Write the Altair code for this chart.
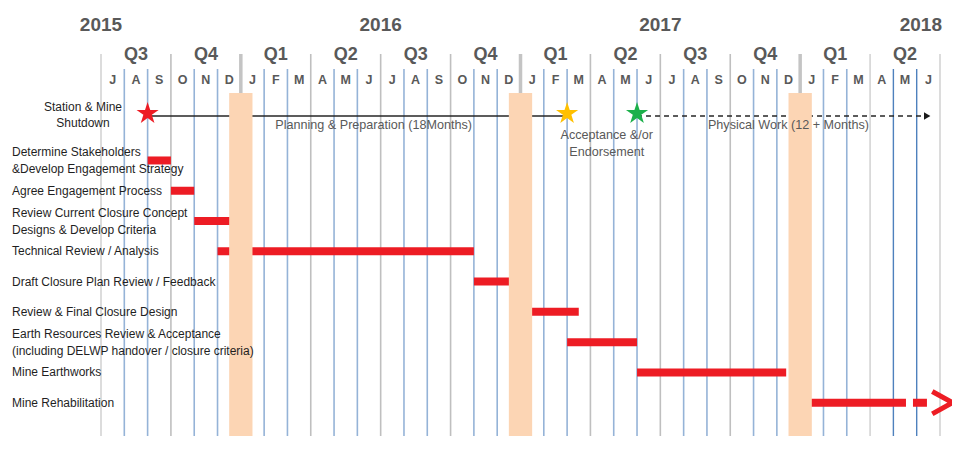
import altair as alt
import pandas as pd

# ---------------- data ----------------
months = ["J", "A", "S", "O", "N", "D", "J", "F", "M", "A", "M", "J",
          "J", "A", "S", "O", "N", "D", "J", "F", "M", "A", "M", "J",
          "J", "A", "S", "O", "N", "D", "J", "F", "M", "A", "M", "J"]  # Jul 2015 .. Jun 2018
quarters = ["Q3", "Q4", "Q1", "Q2", "Q3", "Q4", "Q1", "Q2", "Q3", "Q4", "Q1", "Q2"]
years = ["2015", "2016", "2017", "2018"]
year_mid = [0, 12, 24, 36]          # 1 July of each year, in months from Jul 2015

tasks = [
    "Determine Stakeholders\n&Develop Engagement Strategy",
    "Agree Engagement Process",
    "Review  Current Closure Concept\nDesigns & Develop Criteria",
    "Technical Review / Analysis",
    "Draft Closure Plan Review / Feedback",
    "Review & Final Closure Design",
    "Earth Resources Review & Acceptance\n(including DELWP handover / closure criteria)",
    "Mine Earthworks",
    "Mine Rehabilitation",
]
task_start = [2, 3, 4, 5, 16, 18, 20, 23, 30.4]
task_end = [3, 4, 6, 16, 18, 20.5, 23, 29.4, 34.54]
rehab_dash_end = 35.44
rehab_arrow = 36.1

milestone_names = ["Station & Mine Shutdown", "Acceptance &/or Endorsement", "Start of Physical Work"]
milestone_month = [2, 20, 23]
milestone_color = ["#ED1C24", "#FFC000", "#1CB04B"]
planning_span = [2, 20]
physical_span = [23, 35.2]
physical_arrow = 35.45

phase_text = ["Planning & Preparation (18Months)", "Acceptance &/or\nEndorsement", "Physical Work (12 + Months)"]
phase_month = [11.7, 21.7, 29.5]
phase_line = [0, 1, 0]

break_start = [5.5, 17.5, 29.5]     # Christmas shutdown periods
break_end = [6.5, 18.5, 30.5]

# ---------------- layout ----------------
W, H = 944, 428
PER = (940 - 101) / 36
OFF = 101 - 8
X0 = -OFF / PER
X1 = (W - OFF) / PER
ROW1, STEP = 151, 31
Y0 = 1 - ROW1 / STEP
Y1 = 1 + (H - ROW1) / STEP

xs = alt.Scale(domain=[X0, X1], nice=False, zero=False)
ys = alt.Scale(domain=[Y0, Y1], nice=False, zero=False, reverse=True)

GRAY_TXT = "#595959"
LABEL_FONT = "Liberation Sans, Arial"
HEAD_FONT = "Liberation Sans, Arial"
STAR = ("M0,-1L0.2245,-0.309L0.951,-0.309L0.363,0.118L0.588,0.809L0,0.382"
        "L-0.588,0.809L-0.363,0.118L-0.951,-0.309L-0.2245,-0.309Z")
CHEVRON = "M-0.9,-1L0.9,0L-0.9,1"

# grid boundaries
bounds = list(range(len(months) + 1))
kind = []
for i in bounds:
    if i in (6, 18, 30):
        kind.append("year")
    elif i in (0, 33, 36):
        kind.append("light")
    elif i % 3 == 0:
        kind.append("quarter")
    elif i in (34, 35):
        kind.append("dark")
    else:
        kind.append("month")
grid = pd.DataFrame({"m": bounds, "kind": kind})

month_df = pd.DataFrame({"label": months, "m": [i + 0.5 for i in range(len(months))]})
quarter_df = pd.DataFrame({"label": quarters, "m": [3 * i + 1.5 for i in range(len(quarters))]})
year_df = pd.DataFrame({"label": years, "m": year_mid})

task_df = pd.DataFrame({
    "task": tasks,
    "row": list(range(1, len(tasks) + 1)),
    "start": task_start,
    "end": task_end,
})
task_df["lines"] = task_df["task"].str.count("\n") + 1
rehab_row = len(tasks)
rehab_df = pd.DataFrame({"row": [rehab_row], "start": [task_end[-1]], "end": [rehab_dash_end], "arrow": [rehab_arrow]})

ms_df = pd.DataFrame({"name": milestone_names, "m": milestone_month, "color": milestone_color})
phase_df = pd.DataFrame({"text": phase_text, "m": phase_month, "line": phase_line})
plan_df = pd.DataFrame({"start": [planning_span[0]], "end": [planning_span[1]]})
phys_df = pd.DataFrame({"start": [physical_span[0]], "end": [physical_span[1]], "arrow": [physical_arrow]})
break_df = pd.DataFrame({"start": break_start, "end": break_end})

# ---------------- layers ----------------
def vrule(kinds, top, color, width):
    return alt.Chart(grid).transform_filter(
        alt.FieldOneOfPredicate(field="kind", oneOf=kinds)
    ).mark_rule(color=color, strokeWidth=width).encode(
        x=alt.X("m:Q", scale=xs, axis=None),
        y=alt.value(top), y2=alt.value(H),
    )

g_month = vrule(["month"], 61, "#95B3D7", 1.6)
g_dark = vrule(["dark"], 61, "#4F81BD", 1.4)
g_quarter = vrule(["quarter"], 46, "#BFBFBF", 1.6)
g_light = vrule(["light"], 46, "#D9D9D9", 1.8)
g_year = vrule(["year"], 46, "#C4C4C4", 3.5)

bars = alt.Chart(task_df).mark_bar(color="#ED1C24", height=8).encode(
    x=alt.X("start:Q", scale=xs, axis=None), x2="end:Q",
    y=alt.Y("row:Q", scale=ys, axis=None),
)
rehab_dash = alt.Chart(rehab_df).mark_rule(color="#ED1C24", strokeWidth=8, strokeDash=[0, 7, 14, 7]).encode(
    x=alt.X("start:Q", scale=xs), x2="end:Q", y=alt.Y("row:Q", scale=ys),
)
rehab_arrowhead = alt.Chart(rehab_df).mark_point(
    shape=CHEVRON, filled=False, color="#ED1C24",
    strokeWidth=5, size=500, opacity=1,
).encode(x=alt.X("arrow:Q", scale=xs), y=alt.Y("row:Q", scale=ys))

plan_line = alt.Chart(plan_df).mark_rule(color="#262626", strokeWidth=1.3).encode(
    x=alt.X("start:Q", scale=xs), x2="end:Q", y=alt.value(108),
)
phys_line = alt.Chart(phys_df).mark_rule(color="#262626", strokeWidth=1.3, strokeDash=[5, 4]).encode(
    x=alt.X("start:Q", scale=xs), x2="end:Q", y=alt.value(108),
)
phys_head = alt.Chart(phys_df).mark_point(shape="triangle-right", filled=True, color="#1a1a1a", size=55, opacity=1).encode(
    x=alt.X("arrow:Q", scale=xs), y=alt.value(108),
)
stars = alt.Chart(ms_df).mark_point(shape=STAR, filled=True, size=540, opacity=1, strokeWidth=0).encode(
    x=alt.X("m:Q", scale=xs),
    y=alt.value(105.5),
    color=alt.Color("color:N", scale=None, legend=None),
)

breaks = alt.Chart(break_df).mark_rect(color="#FCD5B4").encode(
    x=alt.X("start:Q", scale=xs), x2="end:Q", y=alt.value(85), y2=alt.value(H),
)

year_txt = alt.Chart(year_df).transform_filter("datum.m < 30").mark_text(
    font=HEAD_FONT, fontSize=19, fontWeight="bold", color=GRAY_TXT, baseline="middle", align="center"
).encode(x=alt.X("m:Q", scale=xs), y=alt.value(17), text="label:N")
year_txt_last = alt.Chart(year_df).transform_filter("datum.m >= 30").mark_text(
    font=HEAD_FONT, fontSize=19, fontWeight="bold", color=GRAY_TXT, baseline="middle", align="right", dx=2
).encode(x=alt.X("m:Q", scale=xs), y=alt.value(17), text="label:N")
quarter_txt = alt.Chart(quarter_df).mark_text(
    font=HEAD_FONT, fontSize=18, fontWeight="bold", color=GRAY_TXT, baseline="middle"
).encode(x=alt.X("m:Q", scale=xs), y=alt.value(47), text="label:N")
month_txt = alt.Chart(month_df).mark_text(
    font=HEAD_FONT, fontSize=12.5, fontWeight="bold", color=GRAY_TXT, baseline="middle"
).encode(x=alt.X("m:Q", scale=xs), y=alt.value(72), text="label:N")

task_txt_1 = alt.Chart(task_df).transform_filter("datum.lines == 1").mark_text(
    font=LABEL_FONT, fontSize=12, color="#1f1f1f", align="left", baseline="middle",
).encode(x=alt.value(4), y=alt.Y("row:Q", scale=ys), text="task:N")
task_txt_2 = alt.Chart(task_df).transform_filter("datum.lines == 2").mark_text(
    font=LABEL_FONT, fontSize=12, color="#1f1f1f", align="left", baseline="middle",
    lineBreak="\n", lineHeight=17, dy=-8,
).encode(x=alt.value(4), y=alt.Y("row:Q", scale=ys), text="task:N")

shutdown_txt = alt.Chart(pd.DataFrame({"t": ["Station & Mine\nShutdown"]})).mark_text(
    font=LABEL_FONT, fontSize=12, color="#1f1f1f", align="center", baseline="middle",
    lineBreak="\n", lineHeight=16,
).encode(x=alt.value(75), y=alt.value(99), text="t:N")

phase_single = alt.Chart(phase_df).transform_filter("datum.line == 0").mark_text(
    font=HEAD_FONT, fontSize=12.6, color=GRAY_TXT, align="center", baseline="middle",
).encode(x=alt.X("m:Q", scale=xs), y=alt.value(117), text="text:N")
phase_double = alt.Chart(phase_df).transform_filter("datum.line == 1").mark_text(
    font=HEAD_FONT, fontSize=12.6, color=GRAY_TXT, align="center", baseline="middle",
    lineBreak="\n", lineHeight=17,
).encode(x=alt.X("m:Q", scale=xs), y=alt.value(127), text="text:N")

chart = alt.layer(
    g_month, g_dark, g_quarter, g_light, g_year,
    bars, rehab_dash, rehab_arrowhead,
    plan_line, phys_line, phys_head, stars,
    breaks,
    year_txt, year_txt_last, quarter_txt, month_txt,
    task_txt_1, task_txt_2, shutdown_txt, phase_single, phase_double,
).properties(
    width=W, height=H, padding=0, background="white",
    autosize=alt.AutoSizeParams(type="none"),
).configure_view(stroke=None)

chart.save("out.html", embed_options={"renderer": "svg", "actions": False})
